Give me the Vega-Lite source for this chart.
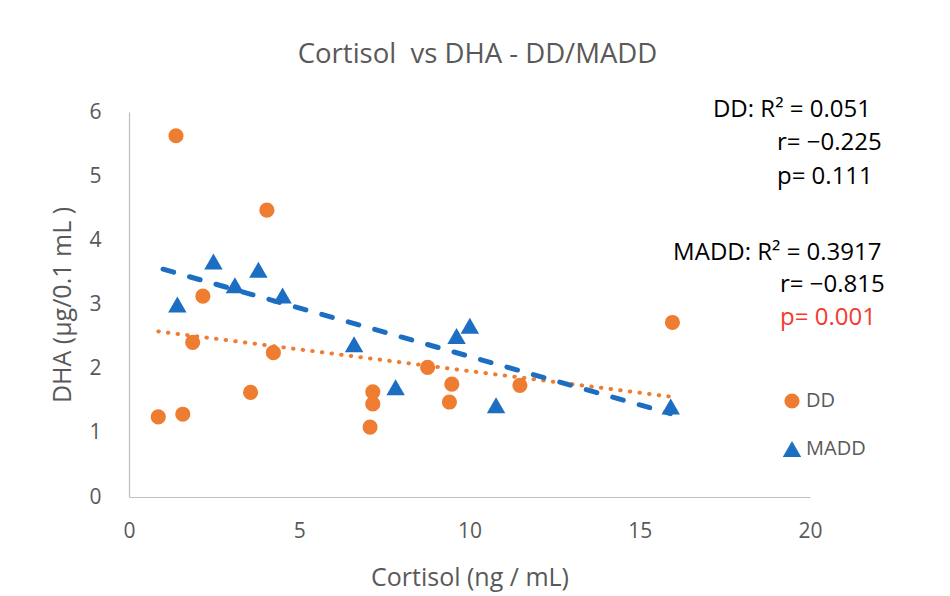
{
  "$schema": "https://vega.github.io/schema/vega-lite/v6.json",
  "width": 681,
  "height": 385,
  "autosize": {"type": "none"},
  "padding": {"left": 129, "top": 112, "right": 140, "bottom": 99},
  "background": "white",
  "config": {
    "view": {"stroke": null},
    "font": "Open Sans",
    "axis": {
      "domainColor": "#bfbfbf",
      "domainWidth": 1.2,
      "grid": false,
      "ticks": false,
      "labelFlush": false,
      "labelColor": "#595959",
      "labelFont": "Open Sans",
      "labelFontSize": 21,
      "titleColor": "#595959",
      "titleFont": "Open Sans",
      "titleFontSize": 25,
      "titleFontWeight": "normal"
    }
  },
  "title": {
    "text": "Cortisol\u00a0 vs DHA - DD/MADD",
    "font": "Open Sans",
    "fontSize": 27.5,
    "fontWeight": "normal",
    "color": "#595959",
    "offset": 30,
    "dx": 8
  },
  "datasets": {
    "points": [
      {"group": "DD", "cortisol": 1.38, "dha": 5.63},
      {"group": "DD", "cortisol": 4.05, "dha": 4.47},
      {"group": "DD", "cortisol": 2.17, "dha": 3.13},
      {"group": "DD", "cortisol": 1.87, "dha": 2.41},
      {"group": "DD", "cortisol": 4.24, "dha": 2.25},
      {"group": "DD", "cortisol": 3.57, "dha": 1.63},
      {"group": "DD", "cortisol": 0.86, "dha": 1.25},
      {"group": "DD", "cortisol": 1.58, "dha": 1.29},
      {"group": "DD", "cortisol": 7.16, "dha": 1.64},
      {"group": "DD", "cortisol": 7.16, "dha": 1.45},
      {"group": "DD", "cortisol": 7.08, "dha": 1.09},
      {"group": "DD", "cortisol": 8.77, "dha": 2.02},
      {"group": "DD", "cortisol": 9.48, "dha": 1.76},
      {"group": "DD", "cortisol": 9.41, "dha": 1.48},
      {"group": "DD", "cortisol": 11.48, "dha": 1.74},
      {"group": "DD", "cortisol": 15.96, "dha": 2.72},
      {"group": "MADD", "cortisol": 1.42, "dha": 3.0},
      {"group": "MADD", "cortisol": 2.48, "dha": 3.67},
      {"group": "MADD", "cortisol": 3.11, "dha": 3.3},
      {"group": "MADD", "cortisol": 3.8, "dha": 3.54},
      {"group": "MADD", "cortisol": 4.51, "dha": 3.14},
      {"group": "MADD", "cortisol": 6.61, "dha": 2.38},
      {"group": "MADD", "cortisol": 7.83, "dha": 1.71},
      {"group": "MADD", "cortisol": 9.62, "dha": 2.51},
      {"group": "MADD", "cortisol": 10.01, "dha": 2.67},
      {"group": "MADD", "cortisol": 10.78, "dha": 1.43},
      {"group": "MADD", "cortisol": 15.91, "dha": 1.41}
    ],
    "trend": [
      {"group": "DD", "cortisol": 0.86, "dha": 2.58},
      {"group": "DD", "cortisol": 15.96, "dha": 1.56},
      {"group": "MADD", "cortisol": 1.0, "dha": 3.55},
      {"group": "MADD", "cortisol": 15.9, "dha": 1.3}
    ],
    "notes": [
      {"label": "DD: R² = 0.051", "x": 17.15, "y": 6.03, "kind": "normal"},
      {"label": "r= −0.225", "x": 19.03, "y": 5.52, "kind": "normal"},
      {"label": "p= 0.111", "x": 19.03, "y": 4.99, "kind": "normal"},
      {"label": "MADD: R² = 0.3917", "x": 15.98, "y": 3.8, "kind": "normal"},
      {"label": "r= −0.815", "x": 19.12, "y": 3.3, "kind": "normal"},
      {"label": "p= 0.001", "x": 19.12, "y": 2.79, "kind": "significant"}
    ]
  },
  "layer": [
    {
      "data": {"name": "points"},
      "mark": {"type": "point", "filled": true, "opacity": 1, "size": 230},
      "encoding": {
        "x": {
          "field": "cortisol",
          "type": "quantitative",
          "scale": {"domain": [0, 20], "nice": false},
          "axis": {
            "values": [0, 5, 10, 15, 20],
            "format": "d",
            "title": "Cortisol (ng / mL)",
            "labelPadding": 23,
            "titleY": 80,
            "titleBaseline": "middle"
          }
        },
        "y": {
          "field": "dha",
          "type": "quantitative",
          "scale": {"domain": [0, 6], "nice": false},
          "axis": {
            "values": [0, 1, 2, 3, 4, 5, 6],
            "format": "d",
            "title": "DHA (µg/0.1 mL )",
            "labelPadding": 28,
            "titleX": -67,
            "titleY": 192.5,
            "titleBaseline": "middle",
            "titleAlign": "center",
            "titleAngle": -90
          }
        },
        "color": {
          "field": "group",
          "type": "nominal",
          "scale": {"domain": ["DD", "MADD"], "range": ["#ee7d31", "#1b6ec2"]},
          "legend": {
            "title": null,
            "orient": "none",
            "legendX": 653,
            "legendY": 279,
            "padding": 0,
            "rowPadding": 26,
            "symbolSize": 160,
            "symbolOpacity": 1,
            "labelFontSize": 20,
            "labelColor": "#595959",
            "labelFont": "Open Sans",
            "labelOffset": 4
          }
        },
        "shape": {
          "field": "group",
          "type": "nominal",
          "scale": {"domain": ["DD", "MADD"], "range": ["circle", "triangle-up"]},
          "legend": {
            "title": null,
            "orient": "none",
            "legendX": 653,
            "legendY": 279,
            "padding": 0,
            "rowPadding": 26,
            "symbolSize": 160,
            "symbolOpacity": 1,
            "labelFontSize": 20,
            "labelColor": "#595959",
            "labelFont": "Open Sans",
            "labelOffset": 4
          }
        },
        "size": {
          "field": "group",
          "type": "nominal",
          "scale": {"domain": ["DD", "MADD"], "range": [230, 340]},
          "legend": null
        }
      }
    },
    {
      "data": {"name": "trend"},
      "transform": [{"filter": "datum.group === 'DD'"}],
      "mark": {"type": "line", "color": "#ee7d31", "strokeWidth": 4, "strokeDash": [0.5, 9.2], "strokeCap": "round"},
      "encoding": {
        "x": {"field": "cortisol", "type": "quantitative"},
        "y": {"field": "dha", "type": "quantitative"}
      }
    },
    {
      "data": {"name": "trend"},
      "transform": [{"filter": "datum.group === 'MADD'"}],
      "mark": {"type": "line", "color": "#1b6ec2", "strokeWidth": 5, "strokeDash": [11, 16.5], "strokeCap": "round"},
      "encoding": {
        "x": {"field": "cortisol", "type": "quantitative"},
        "y": {"field": "dha", "type": "quantitative"}
      }
    },
    {
      "data": {"name": "notes"},
      "mark": {"type": "text", "align": "left", "baseline": "middle", "font": "Open Sans", "fontSize": 24, "clip": false},
      "encoding": {
        "x": {"field": "x", "type": "quantitative"},
        "y": {"field": "y", "type": "quantitative"},
        "text": {"field": "label"},
        "color": {
          "condition": {"test": "datum.kind === 'significant'", "value": "#f43a2f"},
          "value": "#000000"
        }
      }
    }
  ]
}
